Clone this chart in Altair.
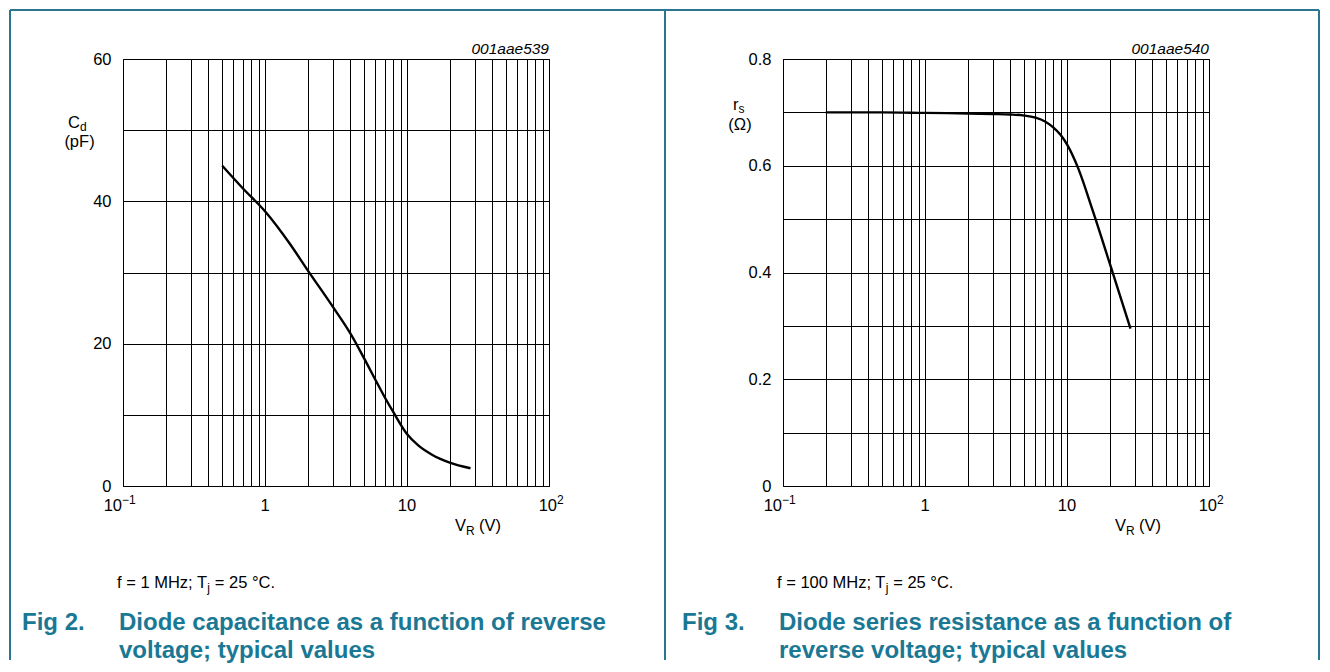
import altair as alt
import pandas as pd

FONT = "Liberation Sans"
TEAL_TEXT = "#1b7894"
TEAL_LINE = "#2b7590"

# ---- Fig 2: diode capacitance vs reverse voltage ----
cap_vr = [0.5, 0.7, 1, 1.5, 2, 3, 4, 5, 6, 7, 8, 10, 12, 15, 20, 28]
cap_cd = [45.0, 41.8, 38.6, 34.0, 30.3, 25.2, 21.4, 17.9, 14.9, 12.4, 10.4, 7.3, 5.7, 4.4, 3.3, 2.5]

# ---- Fig 3: diode series resistance vs reverse voltage ----
res_vr = [0.2, 0.5, 1, 2, 3, 4, 5, 6, 7, 8, 9, 10, 12, 15, 20, 28]
res_rs = [0.700, 0.700, 0.699, 0.698, 0.697, 0.696, 0.694, 0.690, 0.683, 0.672, 0.658, 0.640,
          0.595, 0.520, 0.417, 0.295]

x_grid = [round(m * 10 ** e, 6) for e in (-1, 0, 1) for m in range(1, 10)] + [100]
cap_grid = [0, 10, 20, 30, 40, 50, 60]
res_grid = [0, 0.1, 0.2, 0.3, 0.4, 0.5, 0.6, 0.7, 0.8]

mid_ticks = [1, 10]
mid_labels = ["1", "10"]

W, H = 426, 427
FS = 16.5
one = pd.DataFrame({"k": [0]})
XS = alt.Scale(type="log", domain=[0.1, 100], nice=False)
XAX = alt.Axis(values=x_grid, grid=True, gridColor="black", gridWidth=1,
               labels=False, ticks=False, domain=False, title=None)


def txt(text, x, y, size=FS, align="left", bold=False, italic=False, color="black"):
    return alt.Chart(one).mark_text(
        text=text, align=align, baseline="alphabetic", fontSize=size, font=FONT,
        fontWeight="bold" if bold else "normal",
        fontStyle="italic" if italic else "normal", color=color,
    ).encode(x=alt.value(x), y=alt.value(y))


def vrule(x, y1, y2):
    return alt.Chart(one).mark_rule(color=TEAL_LINE, strokeWidth=2).encode(
        x=alt.value(x), y=alt.value(y1), y2=alt.value(y2))


def hrule(y, x1, x2):
    return alt.Chart(one).mark_rule(color=TEAL_LINE, strokeWidth=2).encode(
        y=alt.value(y), x=alt.value(x1), x2=alt.value(x2))


def tick_at(v, text, dx, align, size=FS, dy=0):
    d = pd.DataFrame({"V": [v]})
    return alt.Chart(d).mark_text(
        text=text, align=align, baseline="alphabetic", fontSize=size, font=FONT,
        color="black", dx=dx, dy=dy,
    ).encode(x=alt.X("V:Q", scale=XS, axis=XAX), y=alt.value(452))


def panel(vr, vals, ymax, ygrid, label_expr, code, ytitle_layers, cond_text, cond_w,
          caption1, caption2, fig):
    df = pd.DataFrame({"V": vr, "Y": vals})
    line = alt.Chart(df).mark_line(color="black", strokeWidth=2.4, interpolate="monotone").encode(
        x=alt.X("V:Q", scale=XS, axis=XAX),
        y=alt.Y("Y:Q", scale=alt.Scale(domain=[0, ymax], nice=False, zero=True),
                axis=alt.Axis(values=ygrid, grid=True, gridColor="black", gridWidth=1,
                              ticks=False, domain=False, title=None, labelExpr=label_expr,
                              labelFont=FONT, labelFontSize=FS, labelColor="black",
                              labelPadding=12, labelOverlap=False)),
    )
    mid = alt.Chart(pd.DataFrame({"V": mid_ticks, "t": mid_labels})).mark_text(
        align="center", baseline="alphabetic", fontSize=FS, font=FONT, color="black"
    ).encode(x=alt.X("V:Q", scale=XS, axis=XAX), y=alt.value(452), text="t:N")
    layers = [
        line, mid,
        tick_at(0.1, "10", -1, "right"), tick_at(0.1, "\u22121", -1, "left", size=12, dy=-7),
        tick_at(100, "10", 8, "right"), tick_at(100, "2", 8, "left", size=12, dy=-7),
        txt("V", 332, 472), txt("R", 343, 476, size=12), txt("(V)", 356, 472),
        txt(code, W, -5, size=15.5, align="right", italic=True),
    ] + ytitle_layers
    # condition text: f = ... ; Tj = 25 °C.
    jx = -6 + cond_w
    layers += [txt(cond_text, -6, 529), txt("j", jx, 533, size=12),
               txt("= 25 \u00b0C.", jx + 7.5, 529)]
    layers += [txt(fig, -101, 571, size=24, bold=True, color=TEAL_TEXT),
               txt(caption1, -4, 571, size=24, bold=True, color=TEAL_TEXT),
               txt(caption2, -4, 599, size=24, bold=True, color=TEAL_TEXT)]
    return layers


left_layers = panel(
    cap_vr, cap_cd, 60, cap_grid, "datum.value % 20 == 0 ? datum.value : ''", "001aae539",
    [txt("C", -55, 69), txt("d", -43.1, 72, size=12), txt("(pF)", -43.5, 88, align="center")],
    "f = 1 MHz; T", 90.3, "Diode capacitance as a function of reverse",
    "voltage; typical values", "Fig 2.",
)
left_layers += [vrule(-113, -49, 601), hrule(-49, -113, 542), vrule(542, -49, 601)]

right_layers = panel(
    res_vr, res_rs, 0.8, res_grid,
    "round(datum.value * 10) % 2 == 0 ? (datum.value == 0 ? '0' : format(datum.value, '.1f')) : ''",
    "001aae540",
    [txt("r", -50, 51), txt("s", -44.5, 54, size=12), txt("(\u03a9)", -43, 71, align="center")],
    "f = 100 MHz; T", 108.7, "Diode series resistance as a function of",
    "reverse voltage; typical values", "Fig 3.",
)
right_layers += [vrule(-118, -49, 601), hrule(-49, -118, 536), vrule(536, -49, 601)]

left = alt.layer(*left_layers).properties(width=W, height=H)
right = alt.layer(*right_layers).properties(width=W, height=H)

chart = alt.hconcat(left, right, spacing=-4).properties(
    padding=0, background="white"
).configure_view(stroke="black", strokeWidth=1)

chart.save("out.html", embed_options={"renderer": "svg", "actions": False})
